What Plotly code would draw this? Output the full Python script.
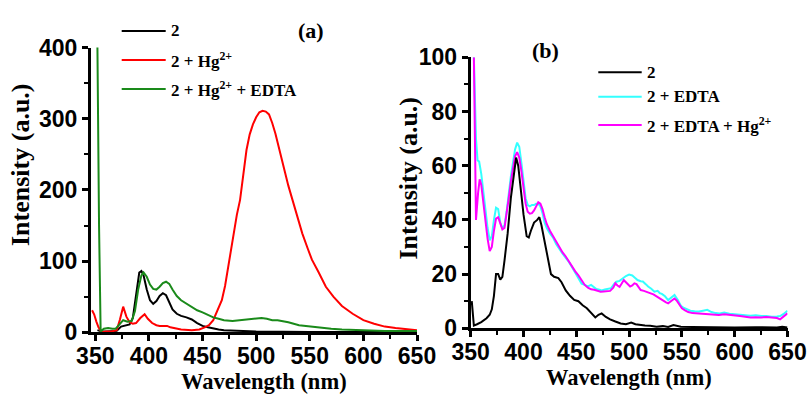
import plotly.graph_objects as go

# ---- (a) emission spectra: 2, 2 + Hg2+, 2 + Hg2+ + EDTA ----
wl_a_black = [352, 356, 360, 365, 370, 374, 378, 382, 385, 388, 391, 393, 395, 398, 401, 404, 407, 410, 413, 416,
              419, 422, 426, 430, 435, 440, 445, 450, 455, 460, 465, 470, 480, 500, 550, 600, 650]
int_a_black = [3, 1, 1, 1, 2, 8, 10, 11, 20, 55, 84, 86, 80, 60, 45, 40, 44, 51, 55, 52,
               42, 32, 26, 23, 21, 18, 13, 9, 7, 5, 4, 3, 2, 1, 0.5, 0.5, 0.5]

wl_a_red = [347, 349, 351, 353, 356, 360, 365, 370, 373, 376, 379, 382, 385, 388, 392, 396, 399, 403, 407, 410,
            414, 417, 420, 426, 430, 440, 447, 452, 456, 460, 464, 468, 471, 474, 477, 479, 482, 485, 488, 491,
            494, 497, 500, 503, 506, 509, 512, 515, 518, 521, 524, 527, 530, 534, 538, 543, 548, 552, 558, 565,
            572, 580, 590, 600, 610, 620, 630, 640, 650]
int_a_red = [31, 25, 15, 7, 0, 1, 1, 3, 18, 36, 22, 14, 12, 13, 20, 25.5, 19, 13, 10, 9,
             9, 9, 7, 5, 4, 3, 4, 7, 10, 17, 30, 45, 65, 92, 118, 139, 165, 186, 220, 256,
             278, 292, 302, 309, 311, 310, 306, 294, 279, 262, 242, 224, 206, 186, 163, 139, 118, 102, 85, 64,
             50, 37, 26, 17, 12, 8, 6, 4, 3]

wl_a_green = [350, 352, 353.5, 355, 358, 362, 366, 369, 372, 376, 380, 384, 387, 390, 393, 395, 398, 401, 404, 407,
              410, 413, 416, 419, 422, 426, 430, 435, 440, 445, 450, 455, 460, 465, 470, 478, 485, 490, 495, 500,
              505, 510, 515, 520, 525, 530, 540, 550, 560, 570, 580, 600, 620, 650]
int_a_green = [1200, 400, 150, 1, 5, 6, 5, 5, 10, 17, 15, 16, 30, 60, 80, 84, 78, 67, 61, 60,
               64, 69, 71, 68, 60, 51, 45, 40, 35, 31, 28, 24, 21, 19, 17, 16, 17, 18, 19, 20,
               20, 19, 17, 17, 16, 14, 10, 8, 6, 5, 4, 3, 2, 2]

# ---- (b) emission spectra: 2, 2 + EDTA, 2 + EDTA + Hg2+ ----
wl_b_black = [351, 353, 356, 360, 365, 368, 370, 372, 374, 376, 378, 380, 382, 385, 388, 391, 393, 395, 397, 400,
              403, 405, 407, 410, 413, 415, 417, 420, 423, 426, 429, 433, 436, 440, 444, 448, 452, 456, 460, 464,
              468, 471, 474, 478, 482, 487, 492, 497, 502, 506, 510, 515, 520, 526, 532, 537, 542, 545, 549, 560,
              570, 580, 600, 620, 640, 645, 650]
int_b_black = [10, 1, 1.5, 2.3, 3.7, 5, 7, 12, 20, 20, 18, 19, 25, 35, 48, 58, 63, 60, 52, 42,
               34, 33.5, 36, 39, 40, 41, 38, 32, 25, 20, 19, 18.5, 17, 14, 12, 10.5, 10, 8.5, 7.4, 5.5,
               4, 5, 5.5, 4.2, 3.3, 2.5, 1.8, 1.5, 2.1, 1.5, 1.2, 1.0, 0.9, 0.6, 0.8, 0.5, 1.2, 1.0, 0.6, 0.5,
               0.4, 0.5, 0.3, 0.4, 0.3, 0.6, 0.3]

wl_b_cyan = [353, 355, 356.5, 358, 360, 362, 364, 366, 368, 370, 372, 374, 376, 378, 380, 382, 384, 386, 388, 390,
             392, 394, 396, 398, 400, 402, 404, 406, 408, 410, 412, 414, 416, 418, 420, 422, 425, 428, 431, 434,
             437, 440, 443, 446, 449, 452, 455, 458, 461, 464, 466, 469, 472, 474, 477, 480, 483, 486, 488, 491,
             494, 497, 500, 503, 506, 508, 511, 513, 516, 518, 521, 524, 527, 529, 531, 534, 537, 540, 543, 546,
             549, 552, 555, 558, 562, 566, 570, 574, 578, 582, 586, 590, 595, 600, 605, 610, 615, 620, 625, 630,
             635, 640, 643, 646, 648, 650]
int_b_cyan = [100, 70, 62, 61.5, 57, 50, 43, 37, 32.5, 34, 40, 44.5, 44, 39, 37, 38, 43, 50, 56, 61,
              66, 68.5, 67, 61, 54, 48, 45.5, 45, 45.5, 45.5, 46, 46, 45, 42.5, 39, 37, 35, 33.5, 31, 29,
              27.5, 26, 24.5, 22.5, 20.5, 18, 16.5, 16, 15.5, 16, 15.4, 14.5, 14.2, 14, 14.3, 14.5, 14.8, 16.5, 17.2, 17.5,
              18.4, 19.3, 19.8, 19.5, 18.5, 17.8, 17.4, 17.3, 16.2, 15.4, 14.6, 13.5, 13.8, 13, 12.7, 11.8, 10.4, 11.5, 12.3, 10.5,
              8.3, 7.5, 7, 6.5, 6.3, 6.2, 6.5, 6.8, 6, 5.6, 5.5, 5.8, 5.4, 5.3, 5.0, 4.8, 4.6, 4.8, 4.5, 4.5,
              4.3, 4.4, 4.5, 5.2, 6, 6.5]

wl_b_magenta = [353, 355, 357, 358.5, 360, 362, 364, 366, 368, 370, 372, 374, 376, 378, 380, 382, 384, 386, 388, 390,
                392, 394, 396, 398, 400, 402, 404, 406, 408, 410, 412, 414, 416, 418, 420, 422, 425, 428, 431, 434,
                437, 440, 443, 446, 449, 452, 455, 458, 461, 464, 467, 470, 473, 476, 479, 482, 485, 487, 489, 491,
                493, 495, 497, 499, 501, 503, 505, 507, 509, 511, 514, 517, 520, 523, 526, 529, 532, 535, 537, 540,
                543, 545, 548, 550, 553, 556, 560, 564, 568, 572, 576, 580, 585, 590, 595, 600, 605, 610, 615, 620,
                625, 630, 635, 640, 643, 646, 648, 650]
int_b_magenta = [100, 40, 50, 55, 53, 46, 39, 33, 28.5, 30, 36, 40.5, 41, 38.5, 36.5, 37, 42, 48, 54, 59,
                 63.5, 65, 63, 58, 52, 46, 43, 42.3, 42.5, 43.5, 45, 46.5, 46, 44, 41, 38.5, 36, 34, 32, 29.5,
                 28, 26.5, 24.5, 22.5, 21, 19.5, 17.5, 16, 15, 14.4, 14.2, 13.8, 13.5, 13.6, 13.6, 13.8, 15, 16.6, 15.8, 15.3,
                 16.5, 17.8, 17, 16, 15.4, 15.8, 16.6, 16.3, 15, 14.1, 13.8, 13.4, 13.1, 12.5, 11.8, 11, 10.5, 9.6, 9.2, 10.2,
                 11, 10.3, 8.5, 7.4, 6.6, 6, 5.6, 5.5, 5.3, 5.4, 5.2, 5, 4.9, 5.2, 4.9, 4.6, 4.5, 4.3, 4.0, 4.1,
                 4.0, 4.2, 3.9, 3.8, 3.3, 4.2, 5, 5.5]

# legend labels and colours
legend_a = ["2", "2 + Hg<sup>2+</sup>", "2 + Hg<sup>2+</sup> + EDTA"]
colors_a = ["#000000", "#ff0000", "#1a8a1a"]
legend_b = ["2", "2 + EDTA", "2 + EDTA + Hg<sup>2+</sup>"]
colors_b = ["#000000", "#33ffff", "#ff00ff"]

x_ticks = [350, 400, 450, 500, 550, 600, 650]
y_ticks_a = [0, 100, 200, 300, 400]
y_ticks_b = [0, 20, 40, 60, 80, 100]

W, H = 810, 398
SERIF = "Liberation Serif, Times New Roman, serif"
TICKFONT = dict(family="Liberation Sans, Arial, sans-serif", size=23, color="black", weight="bold")

fig = go.Figure()
series_a = [(wl_a_black, int_a_black), (wl_a_red, int_a_red), (wl_a_green, int_a_green)]
series_b = [(wl_b_black, int_b_black), (wl_b_cyan, int_b_cyan), (wl_b_magenta, int_b_magenta)]

for (xs, ys), c, name in zip(series_a, colors_a, legend_a):
    fig.add_trace(go.Scatter(x=xs, y=ys, mode="lines", line=dict(color=c, width=2), name=name,
                             showlegend=False, xaxis="x", yaxis="y"))
# cyan first, then magenta, black on top in (b)
for i in [1, 2, 0]:
    xs, ys = series_b[i]
    fig.add_trace(go.Scatter(x=xs, y=ys, mode="lines", line=dict(color=colors_b[i], width=2), name=legend_b[i],
                             showlegend=False, xaxis="x2", yaxis="y2"))


def px_x(p):
    return p / W


def px_y(p):
    return 1 - p / H


axis_common = dict(showline=True, linecolor="black", linewidth=3, ticks="outside", ticklen=6, tickwidth=2.5,
                   tickcolor="black", showgrid=False, zeroline=False, tickfont=TICKFONT, automargin=False)


def minor(dt, t0=0):
    return dict(dtick=dt, tick0=t0, ticklen=4, tickwidth=2, ticks="outside", tickcolor="black")


fig.update_layout(
    width=W, height=H, margin=dict(l=0, r=0, t=0, b=0, autoexpand=False),
    paper_bgcolor="white", plot_bgcolor="white",
    xaxis=dict(domain=[px_x(91), px_x(417)], range=[346, 650], tickvals=x_ticks, anchor="y",
               minor=minor(25, 350), ticklabelstandoff=-5, **axis_common),
    yaxis=dict(domain=[px_y(332.3), px_y(47.5)], range=[0, 400], tickvals=y_ticks_a, anchor="x",
               minor=minor(50), **axis_common),
    xaxis2=dict(domain=[px_x(470.7), px_x(787.5)], range=[350, 650], tickvals=x_ticks, anchor="y2",
                minor=minor(25, 350), ticklabelstandoff=-5, **axis_common),
    yaxis2=dict(domain=[px_y(328.3), px_y(57.3)], range=[0, 100], tickvals=y_ticks_b, anchor="x2",
                minor=minor(10), **axis_common),
)

annotations = []
shapes = []


def text(x, y, s, size, angle=0, xanchor="center", yanchor="middle"):
    annotations.append(dict(x=px_x(x), y=px_y(y), xref="paper", yref="paper", text=s, showarrow=False,
                            textangle=angle, xanchor=xanchor, yanchor=yanchor,
                            font=dict(family=SERIF, size=size, color="black", weight="bold")))


# axis titles
text(263.5, 381, "Wavelength (nm)", 22.5)
text(629, 377, "Wavelength (nm)", 22.5)
text(21, 165, "Intensity (a.u.)", 26, angle=-90)
text(408, 177.5, "Intensity (a.u.)", 26, angle=-90)

# panel labels
text(310.5, 31, "(a)", 22)
text(545, 51, "(b)", 22)

# legends
for (yy, label, c) in zip([31, 60, 89], legend_a, colors_a):
    shapes.append(dict(type="line", xref="paper", yref="paper", x0=px_x(121.7), x1=px_x(165.7),
                       y0=px_y(yy), y1=px_y(yy), line=dict(color=c, width=2)))
    text(169, yy, label, 17, xanchor="left")

for (yy, label, c) in zip([72.3, 96.7, 125], legend_b, colors_b):
    shapes.append(dict(type="line", xref="paper", yref="paper", x0=px_x(598.3), x1=px_x(641.7),
                       y0=px_y(yy), y1=px_y(yy), line=dict(color=c, width=2)))
    text(645, yy, label, 17, xanchor="left")

fig.update_layout(annotations=annotations, shapes=shapes)
fig.write_html("out.html")
